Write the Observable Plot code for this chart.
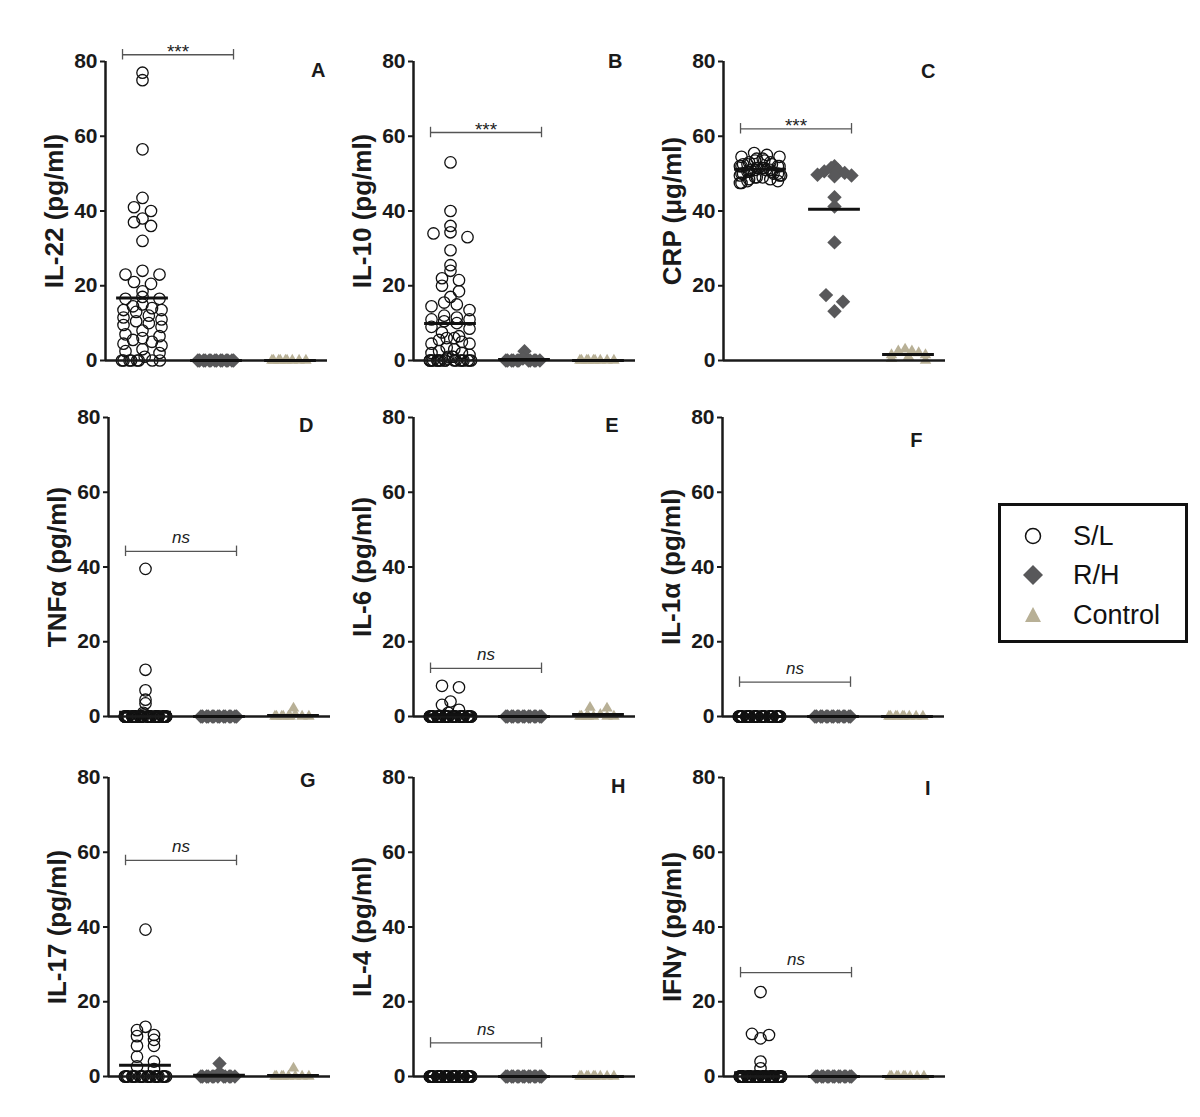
<!DOCTYPE html>
<html><head><meta charset="utf-8">
<script src="https://cdn.jsdelivr.net/npm/d3@7"></script>
<script src="https://cdn.jsdelivr.net/npm/@observablehq/plot@0.6"></script>
<style>
body{margin:0;background:#fff;}
#root{position:relative;width:1200px;height:1117px;overflow:hidden;font-family:'Liberation Sans',Arial,sans-serif;}
.panel{position:absolute;}
.panel g[aria-label="y-axis tick"]{stroke-width:2px;}
.panel g[aria-label="y-axis"] line{stroke-width:2px;}
#legend{position:absolute;left:998px;top:503px;width:184px;height:134px;border:3px solid #111;box-sizing:content-box;}
.lrow{position:absolute;left:0;height:36px;width:184px;}
.lrow svg{position:absolute;left:18px;top:0;}
.lrow span{position:absolute;left:72px;top:0;line-height:36px;font-size:27px;color:#111;}
</style></head><body><div id="root"></div>
<script>
// ---------- data ----------
const groups = ["S/L", "R/H", "Control"];
const panelLetters = ["A","B","C","D","E","F","G","H","I"];
const yLabels = ["IL-22 (pg/ml)","IL-10 (pg/ml)","CRP (\u03bcg/ml)","TNF\u03b1 (pg/ml)","IL-6 (pg/ml)","IL-1\u03b1 (pg/ml)","IL-17 (pg/ml)","IL-4 (pg/ml)","IFN\u03b3 (pg/ml)"];
const yTicks = [0, 20, 40, 60, 80];
const bracketY = [81.8, 61, 62, 44.2, 12.9, 9.2, 57.8, 9.0, 27.8];
const bracketText = ["***","***","***","ns","ns","ns","ns","ns","ns"];

const il22_SL = [77,75,56.5,43.5,41,40,38,37,36,32,24,23,23,21,20.5,18.5,17,16.5,16.5,15,14.5,14,13.5,13.5,13,12,11.5,11,10.5,10,9.5,9,8,7,6.5,6,5.5,5,4.5,4,3,2.5,2,1,0,0,0,0,0,0,0,0];
const il22_RH = [0,0,0,0,0,0,0,0,0,0,0,0,0,0];
const il22_Ctrl = [0,0,0,0,0,0,0,0,0];

const il10_SL = [53,40,36,34.3,34,33,29.5,25.5,24,22,21.5,20,18.5,17,15.5,15,14.5,13.5,12,11.5,11,11,10.5,10,9,8.5,7.5,6.5,6,6,5.5,5,4.5,4.5,3.5,3,2.5,2,2,1.5,1,1,1,0.5,0,0,0,0,0,0,0,0,0,0,0,0,0,0,0,0,0,0];
const il10_RH = [2.5,1,0.5,0,0,0,0,0,0,0,0,0,0,0];
const il10_Ctrl = [0,0,0,0,0,0,0,0,0];

const crp_SL = [55.5,55,54.5,54.5,54,54,53.5,53.5,53,53,52.5,52.5,52.5,52,52,52,52,51.5,51.5,51.5,51.5,51,51,51,51,50.5,50.5,50.5,50,50,50,50,49.5,49.5,49.5,49,49,49,48.5,48.5,48,48,47.5,47.5];
const crp_RH = [52,51.5,51,50.6,50.2,49.7,49.5,49.3,43.7,41.2,31.6,17.5,15.7,13.2];
const crp_Ctrl = [3,2.5,2.5,2,1.5,1.5,1,0.5,0];

const tnf_SL = [39.5,12.5,7,4.5,3.5,1,0.5,0,0,0,0,0,0,0,0,0,0,0,0,0,0,0,0,0,0,0,0,0,0,0,0,0,0,0,0,0,0,0,0,0,0,0,0,0,0,0,0,0,0,0,0,0,0,0,0,0,0,0,0,0,0,0];
const tnf_RH = [0,0,0,0,0,0,0,0,0,0,0,0,0,0];
const tnf_Ctrl = [2.2,0.5,0,0,0,0,0,0,0,0];

const il6_SL = [8.2,7.8,4,3.1,1.8,1,0,0,0,0,0,0,0,0,0,0,0,0,0,0,0,0,0,0,0,0,0,0,0,0,0,0,0,0,0,0,0,0,0,0,0,0,0,0,0,0,0,0,0,0,0,0,0,0,0,0];
const il6_RH = [0,0,0,0,0,0,0,0,0,0,0,0,0,0];
const il6_Ctrl = [2.4,2.2,0.5,0,0,0,0,0,0,0];

const il1a_SL = [0,0,0,0,0,0,0,0,0,0,0,0,0,0,0,0,0,0,0,0,0,0,0,0,0,0,0,0,0,0,0,0,0,0,0,0,0,0,0,0,0,0,0,0,0,0,0,0,0,0];
const il1a_RH = [0,0,0,0,0,0,0,0,0,0,0,0,0,0];
const il1a_Ctrl = [0,0,0,0,0,0,0,0,0];

const il17_SL = [39.3,13.3,12.4,11.1,10.8,9.8,8.2,8.2,5.3,4,2.7,2,0,0,0,0,0,0,0,0,0,0,0,0,0,0,0,0,0,0,0,0,0,0,0,0,0,0,0,0,0,0];
const il17_RH = [3.5,1,0,0,0,0,0,0,0,0,0,0,0,0];
const il17_Ctrl = [2.2,0,0,0,0,0,0,0,0];

const il4_SL = [0,0,0,0,0,0,0,0,0,0,0,0,0,0,0,0,0,0,0,0,0,0,0,0,0,0,0,0,0,0,0,0,0,0,0,0,0,0,0,0,0,0,0,0,0,0,0,0,0,0];
const il4_RH = [0,0,0,0,0,0,0,0,0,0,0,0,0,0];
const il4_Ctrl = [0,0,0,0,0,0,0,0,0];

const ifng_SL = [22.6,11.4,11.1,10.2,4,2.2,0,0,0,0,0,0,0,0,0,0,0,0,0,0,0,0,0,0,0,0,0,0,0,0,0,0,0,0,0,0,0,0,0,0,0,0,0,0,0,0,0,0,0,0,0,0,0,0,0,0,0,0,0,0,0];
const ifng_RH = [0,0,0,0,0,0,0,0,0,0,0,0,0,0];
const ifng_Ctrl = [0,0,0,0,0,0,0,0,0];

const panelData = [
  [il22_SL, il22_RH, il22_Ctrl], [il10_SL, il10_RH, il10_Ctrl], [crp_SL, crp_RH, crp_Ctrl],
  [tnf_SL, tnf_RH, tnf_Ctrl], [il6_SL, il6_RH, il6_Ctrl], [il1a_SL, il1a_RH, il1a_Ctrl],
  [il17_SL, il17_RH, il17_Ctrl], [il4_SL, il4_RH, il4_Ctrl], [ifng_SL, ifng_RH, ifng_Ctrl]
];

// ---------- layout / style ----------
const axisX = [[105,413,723],[108,413,722],[108,413,723]];
const frameTop = [61, 417, 777];
const letterShift = [[-2,1],[-13,-8],[-10,2],[-17,0],[-17,0],[-22,15],[-15,-5],[-10,1],[-15,3]];
const PW = 222, PH = 299, ML = 80, MR = 15, MT = 32, MB = 20;
const PPU = PH / 80, UNIT = PW / 3;
const ink = "#1a1a1a";
const colors = {rh: "#58585a", ctrl: "#b8b096"};

// GraphPad-like row scatter: points in the same horizontal band are spread sideways,
// crowded rows re-use a limited number of column slots
function scatterLayout(values, halfWidth, maxSlots) {
  const pts = values.map((v, i) => ({v, i}));
  const rows = d3.group(pts, p => Math.round(p.v * PPU / 9));
  const out = [];
  for (const [, row] of rows) {
    row.sort((a, b) => d3.descending(a.v, b.v) || a.i - b.i);
    const k = row.length;
    let offs;
    if (k <= maxSlots) {
      let step = 17;
      if (k > 1 && (k - 1) * step > 2 * halfWidth) step = 2 * halfWidth / (k - 1);
      offs = d3.range(k).map(j => (j - (k - 1) / 2) * step);
    } else {
      const step = 2 * halfWidth / (maxSlots - 1);
      offs = d3.range(k).map(j => ((j % maxSlots) - (maxSlots - 1) / 2) * step
        + ((Math.floor(j / maxSlots) % 3) - 1) * 1.6);
    }
    offs.sort((a, b) => Math.abs(a) - Math.abs(b) || a - b);
    row.forEach((p, j) => out.push({v: p.v, off: offs[j] / UNIT}));
  }
  return out;
}

const root = document.getElementById("root");

panelData.forEach((data, idx) => {
  const r = Math.floor(idx / 3), c = idx % 3;
  const halfW = [19, 17, 17], slots = [6, 7, 6];
  const pts = data.map((vals, g) => scatterLayout(vals, halfW[g], slots[g]).map(p => ({v: p.v, x: g + 0.5 + p.off, g})));
  const means = data.map((vals, g) => ({g, m: d3.mean(vals)}));
  const br = [{x1: 0.5 - 0.27, x2: 1.5 + 0.23, y: bracketY[idx], t: bracketText[idx]}];
  const isNs = bracketText[idx] === "ns";

  const plot = Plot.plot({
    width: ML + PW + MR, height: MT + PH + MB,
    marginLeft: ML, marginRight: MR, marginTop: MT, marginBottom: MB,
    x: {domain: [0, 3], axis: null},
    y: {domain: [0, 80], ticks: yTicks, tickSize: 5, tickPadding: 3, label: null},
    style: {fontFamily: "'Liberation Sans', Arial, sans-serif", fontSize: "21px", fontWeight: "bold", color: ink, background: "transparent"},
    marks: [
      Plot.dot(pts[1], {x: "x", y: "v", symbol: "diamond2", r: 6.5, fill: colors.rh, stroke: "none"}),
      Plot.dot(pts[2], {x: "x", y: "v", symbol: "triangle2", r: 5.5, fill: colors.ctrl, stroke: "none"}),
      Plot.dot(pts[0], {x: "x", y: "v", r: 5.7, fill: "none", stroke: "#111", strokeWidth: 1.3}),
      Plot.ruleY([0], {x1: () => 0, x2: () => 3, stroke: ink, strokeWidth: 2.5}),
      Plot.ruleX([0], {y1: () => 0, y2: () => 80, stroke: ink, strokeWidth: 2.5}),
      Plot.ruleY(means, {x1: d => d.g + 0.5 - 0.35, x2: d => d.g + 0.5 + 0.35, y: "m", stroke: "#111", strokeWidth: 3}),
      Plot.ruleY(br, {x1: "x1", x2: "x2", y: "y", stroke: "#555", strokeWidth: 1.3}),
      Plot.ruleX(br, {x: "x1", y1: d => d.y - 1.4, y2: d => d.y + 1.4, stroke: "#555", strokeWidth: 1.3}),
      Plot.ruleX(br, {x: "x2", y1: d => d.y - 1.4, y2: d => d.y + 1.4, stroke: "#555", strokeWidth: 1.3}),
      Plot.text(br, {x: d => (d.x1 + d.x2) / 2, y: "y", text: "t", lineAnchor: "bottom",
        dy: isNs ? -8 : 3, fontSize: isNs ? 17 : 19, fontWeight: "normal",
        fontStyle: isNs ? "italic" : "normal", fill: "#222"}),
      Plot.text([panelLetters[idx]], {frameAnchor: "top-right", textAnchor: "end", lineAnchor: "top",
        dx: letterShift[idx][0], dy: letterShift[idx][1], fontSize: 20, fontWeight: "bold", fill: ink}),
      Plot.text([yLabels[idx]], {frameAnchor: "left", rotate: -90, textAnchor: "middle", lineAnchor: "bottom",
        dx: -43, fontSize: 26, fontWeight: "bold", fill: ink})
    ]
  });
  plot.classList.add("panel");
  plot.style.left = (axisX[r][c] - ML) + "px";
  plot.style.top = (frameTop[r] - MT) + "px";
  plot.style.maxWidth = "none";
  root.appendChild(plot);
});

// ---------- legend ----------
const legend = document.createElement("div");
legend.id = "legend";
const legendItems = [
  {label: groups[0], svg: '<circle cx="14" cy="18" r="7.5" fill="none" stroke="#111" stroke-width="1.5"/>'},
  {label: groups[1], svg: '<path d="M14,8 L24,18 L14,28 L4,18 Z" fill="#58585a"/>'},
  {label: groups[2], svg: '<path d="M14,10 L22,25 L6,25 Z" fill="#b8b096"/>'}
];
const rowTops = [12, 51, 91];
legendItems.forEach((it, i) => {
  const row = document.createElement("div");
  row.className = "lrow";
  row.style.top = rowTops[i] + "px";
  row.innerHTML = `<svg width="28" height="36">${it.svg}</svg><span>${it.label}</span>`;
  legend.appendChild(row);
});
root.appendChild(legend);
</script>
</body></html>
